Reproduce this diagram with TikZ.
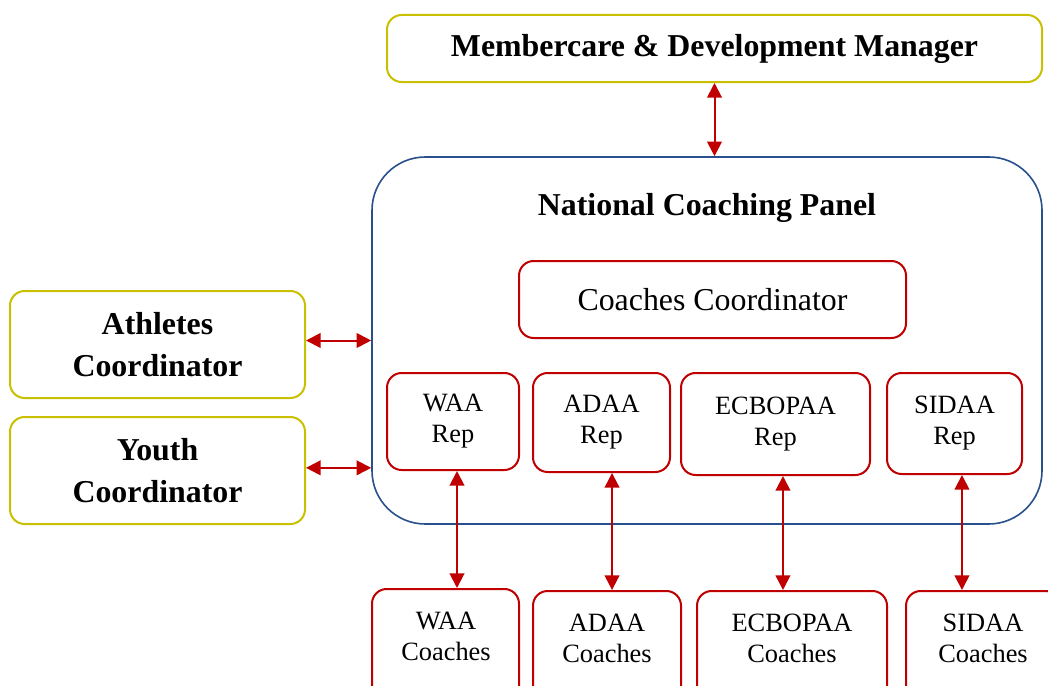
\documentclass[tikz,border=0pt]{standalone}
\usepackage{fontspec}
\setmainfont{Liberation Serif}
\usetikzlibrary{arrows.meta}
\definecolor{olivebox}{RGB}{200,192,0}
\definecolor{bluebox}{RGB}{40,80,140}
\definecolor{redbox}{RGB}{192,0,0}
\tikzset{
  ybox/.style={draw=olivebox, line width=1.5pt, rounded corners=11pt, inner sep=0pt, align=center,
    font=\bfseries\fontsize{23.9}{31.5}\selectfont},
  rbox/.style={draw=redbox, line width=1.5pt, rounded corners=11pt, inner sep=0pt, align=center,
    font=\fontsize{19.8}{23.25}\selectfont},
  smalltxt/.style={align=center, inner sep=0pt, font=\fontsize{19.8}{23.25}\selectfont},
  link/.style={draw=redbox, line width=1.5pt, {Triangle[length=11pt,width=11pt]}-{Triangle[length=11pt,width=11pt]}}
}
\begin{document}
\begin{tikzpicture}[x=0.75pt,y=-0.75pt]
\useasboundingbox (0,0) rectangle (1048,685);
\fill[white] (0,0) rectangle (1048,685);
% top manager
\node[ybox, minimum width=491.25pt, minimum height=50.25pt] (mdm) at (714.5,48.5) {Membercare \& Development Manager};
% national coaching panel
\node[draw=bluebox, line width=1.2pt, rounded corners=40pt, minimum width=502.5pt, minimum height=275.25pt, inner sep=0pt] (ncp) at (707,340.5) {};
\node[inner sep=0pt, font=\bfseries\fontsize{23.9}{31.5}\selectfont] (ncpt) at (707,208) {National Coaching Panel};
\node[rbox, font=\fontsize{23.9}{28}\selectfont, minimum width=290.25pt, minimum height=57.75pt] (cc) at (712.5,299.5) {Coaches Coordinator};
% reps
\node[rbox, minimum width=99pt, minimum height=72.75pt] (waar) at (453,421.5) {WAA\\Rep};
\node[rbox, minimum width=102.75pt, minimum height=74.25pt] (adaar) at (601.5,422.5) {ADAA\\Rep};
\node[rbox, minimum width=141.75pt, minimum height=76.5pt] (ecbr) at (775.5,424) {ECBOPAA\\Rep};
\node[rbox, minimum width=101.25pt, minimum height=75.75pt] (sidr) at (954.5,423.5) {SIDAA\\Rep};
% left coordinators
\node[ybox, minimum width=221.25pt, minimum height=80.25pt] (ath) at (157.5,344.5) {Athletes\\Coordinator};
\node[ybox, minimum width=221.25pt, minimum height=80.25pt] (yth) at (157.5,470.5) {Youth\\Coordinator};
% bottom coaches boxes
\node[rbox, anchor=north, minimum width=110.25pt, minimum height=90pt] (waac) at (445.5,588) {};
\node[rbox, anchor=north, minimum width=111pt, minimum height=90pt] (adaac) at (607,590) {};
\node[rbox, anchor=north, minimum width=142.5pt, minimum height=90pt] (ecbc) at (792,590) {};
\node[rbox, anchor=north, minimum width=115.5pt, minimum height=90pt] (sidc) at (983,590) {};
\node[smalltxt] (waact) at (446,636) {WAA\\Coaches};
\node[smalltxt] (adaact) at (607,638) {ADAA\\Coaches};
\node[smalltxt] (ecbct) at (792,638) {ECBOPAA\\Coaches};
\node[smalltxt] (sidct) at (983,638) {SIDAA\\Coaches};
% connectors
\draw[link] (mdm.south) -- (mdm.south |- ncp.north);
\draw[link] ([yshift=3pt]ath.east) -- ([yshift=3pt]ath.east -| ncp.west);
\draw[link] ([yshift=2pt]yth.east) -- ([yshift=2pt]yth.east -| ncp.west);
\draw[link] ([xshift=3pt]waar.south) -- ([xshift=3pt]waar.south |- waac.north);
\draw[link] ([xshift=7.9pt]adaar.south) -- ([xshift=7.9pt]adaar.south |- adaac.north);
\draw[link] ([xshift=5.6pt]ecbr.south) -- ([xshift=5.6pt]ecbr.south |- ecbc.north);
\draw[link] ([xshift=5.6pt]sidr.south) -- ([xshift=5.6pt]sidr.south |- sidc.north);
\end{tikzpicture}
\end{document}
